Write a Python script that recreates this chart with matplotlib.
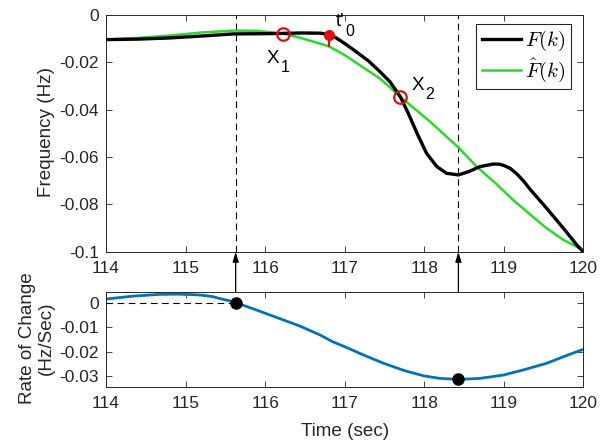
import matplotlib
matplotlib.use("Agg")
import matplotlib.pyplot as plt
from matplotlib.ticker import FuncFormatter
from matplotlib.font_manager import FontProperties

plt.rcParams['font.family'] = ['Liberation Sans', 'DejaVu Sans']
plt.rcParams['axes.unicode_minus'] = False

# measured frequency F(k)
t_f = [114.0, 114.4, 114.8, 115.2, 115.6, 116.0, 116.2, 116.45, 116.7, 116.8,
       116.88, 116.95, 117.02, 117.1, 117.2, 117.3, 117.44, 117.57, 117.7, 117.8,
       117.91, 118.03, 118.16, 118.28, 118.43, 118.56, 118.7, 118.87, 118.95, 119.0,
       119.08, 119.16, 119.25, 119.33, 119.54, 119.75, 119.92, 120.0]
f_meas = [-0.0105, -0.0103, -0.0098, -0.0090, -0.0081, -0.0080, -0.0079, -0.0077, -0.0078, -0.0084,
          -0.0095, -0.0110, -0.0126, -0.0145, -0.0170, -0.0195, -0.0239, -0.0283, -0.0346, -0.0416,
          -0.0500, -0.0585, -0.0641, -0.0669, -0.0676, -0.0662, -0.0641, -0.0630, -0.0631, -0.0636,
          -0.0648, -0.0670, -0.0702, -0.0736, -0.0817, -0.0901, -0.0972, -0.1000]

# fitted frequency F^(k)
t_fit = [114.0, 114.4, 114.8, 115.2, 115.6, 115.9, 116.23, 116.44, 116.8, 117.0,
         117.2, 117.44, 117.7, 118.07, 118.43, 118.66, 118.9, 119.12, 119.35, 119.54,
         119.75, 119.92, 120.0]
f_fit = [-0.0105, -0.0098, -0.0088, -0.0075, -0.0067, -0.0068, -0.0080, -0.0097, -0.0133, -0.0170,
         -0.0215, -0.0268, -0.0346, -0.0450, -0.0560, -0.0641, -0.0712, -0.0782, -0.0848, -0.0901,
         -0.0950, -0.0979, -0.1000]

# rate of change of the fit
t_rate = [114.0, 114.34, 114.67, 114.9, 115.1, 115.2, 115.34, 115.42, 115.55, 115.63,
          115.8, 116.0, 116.2, 116.44, 116.69, 116.85, 117.0, 117.25, 117.49, 117.75,
          118.0, 118.2, 118.44, 118.7, 119.0, 119.25, 119.54, 119.8, 120.0]
rate = [0.0015, 0.0027, 0.0034, 0.0035, 0.0033, 0.0031, 0.0025, 0.0018, 0.0008, 0.0,
        -0.0019, -0.0043, -0.0067, -0.0096, -0.0132, -0.0160, -0.0180, -0.0216, -0.0248, -0.0278,
        -0.0300, -0.0310, -0.0314, -0.0310, -0.0296, -0.0275, -0.0248, -0.0215, -0.0191]

x1 = (116.23, -0.0080)
x2 = (117.70, -0.0346)
t0 = (116.80, -0.0084, -0.0133)
turn_points = [(115.63, 0.0), (118.43, -0.0314)]

GRAY = '#262626'
RED = '#e01010'
fmt = FuncFormatter(lambda v, p: '{:g}'.format(round(v, 4)))


def sub_label(ax, x, y, main, sub, dx=10.0, dy=-6.5):
    # main text with a dropped subscript, MATLAB style; offsets in points
    kw = dict(xycoords='data', textcoords='offset points', ha='left', va='baseline')
    ax.annotate(main, xy=(x, y), xytext=(0, 0), fontsize=13.6, **kw)
    ax.annotate(sub, xy=(x, y), xytext=(dx, dy), fontsize=11.5, **kw)


fig = plt.figure(figsize=(6.03, 4.42), dpi=100)
ax1 = fig.add_axes([0.1758, 0.4305, 0.7915, 0.5362])
ax2 = fig.add_axes([0.1758, 0.1251, 0.7915, 0.2149])

ax1.plot(t_f, f_meas, color='black', lw=2.4, label=r'$F(k)$', zorder=3)
ax1.plot(t_fit, f_fit, color='#2ad92a', lw=1.8, label=r'$\hat{F}(k)$', zorder=2)
for x, y in (x1, x2):
    ax1.plot(x, y, 'o', ms=9, mfc='none', mec=RED, mew=1.6, zorder=5)
ax1.plot([t0[0], t0[0]], [t0[1], t0[2]], color=RED, lw=1.6, zorder=4)
ax1.plot(t0[0], t0[1], 'o', ms=7, color=RED, zorder=5)

sub_label(ax1, 116.024, -0.0204, 'X', '1')
sub_label(ax1, 117.843, -0.0318, 'X', '2')
sub_label(ax1, 116.891, -0.0046, "t'", '0', dx=6.6, dy=-7.5)

for x, _ in turn_points:
    ax1.axvline(x, color='black', lw=0.8, ls=(0, (6, 4)), zorder=1)

ax1.set_xlim(114, 120)
ax1.set_ylim(-0.1, 0)
ax1.set_yticks([0, -0.02, -0.04, -0.06, -0.08, -0.1])
ax1.yaxis.set_major_formatter(fmt)
ax1.set_ylabel('Frequency (Hz)', fontsize=13.6, color=GRAY)
ax1.yaxis.set_label_coords(-0.107, 0.505)

leg_font = FontProperties(size=15, math_fontfamily='cm')
leg = ax1.legend(loc='upper right', bbox_to_anchor=(0.974, 0.961), borderaxespad=0,
                 prop=leg_font, fancybox=False, framealpha=1, edgecolor=GRAY,
                 handlelength=1.9, handletextpad=0.2, borderpad=0.25, labelspacing=0.15)
leg.get_frame().set_linewidth(0.8)

ax2.plot(t_rate, rate, color='#0072BD', lw=2)
ax2.plot([114, turn_points[0][0]], [0, 0], color='black', lw=0.8, ls=(0, (6, 4)))
for x, y in turn_points:
    ax2.plot(x, y, 'o', ms=8, color='black', zorder=5)
    ax1.annotate('', xy=(x, -0.1), xycoords=ax1.transData,
                 xytext=(x, y), textcoords=ax2.transData,
                 arrowprops=dict(arrowstyle='-|>,head_length=0.6,head_width=0.18',
                                 color='black', lw=0.9, shrinkA=0, shrinkB=0),
                 annotation_clip=False)
ax2.set_xlim(114, 120)
ax2.set_ylim(-0.0344, 0.0045)
ax2.set_yticks([0, -0.01, -0.02, -0.03])
ax2.yaxis.set_major_formatter(fmt)
ax2.set_ylabel('Rate of Change\n(Hz/Sec)', fontsize=13.6, color=GRAY, linespacing=1.15)
ax2.yaxis.set_label_coords(-0.107, 0.507)
ax2.set_xlabel('Time (sec)', fontsize=13.6, color=GRAY, labelpad=8)

for ax in (ax1, ax2):
    ax.set_xticks(range(114, 121))
    ax.tick_params(direction='in', top=True, right=True, length=4, width=0.6,
                   labelsize=12.5, colors=GRAY)
    ax.tick_params(axis='x', pad=7)
    ax.tick_params(axis='y', pad=5)
    for s in ax.spines.values():
        s.set_color(GRAY)
        s.set_linewidth(0.7)

fig.savefig('out.png', dpi=100)
